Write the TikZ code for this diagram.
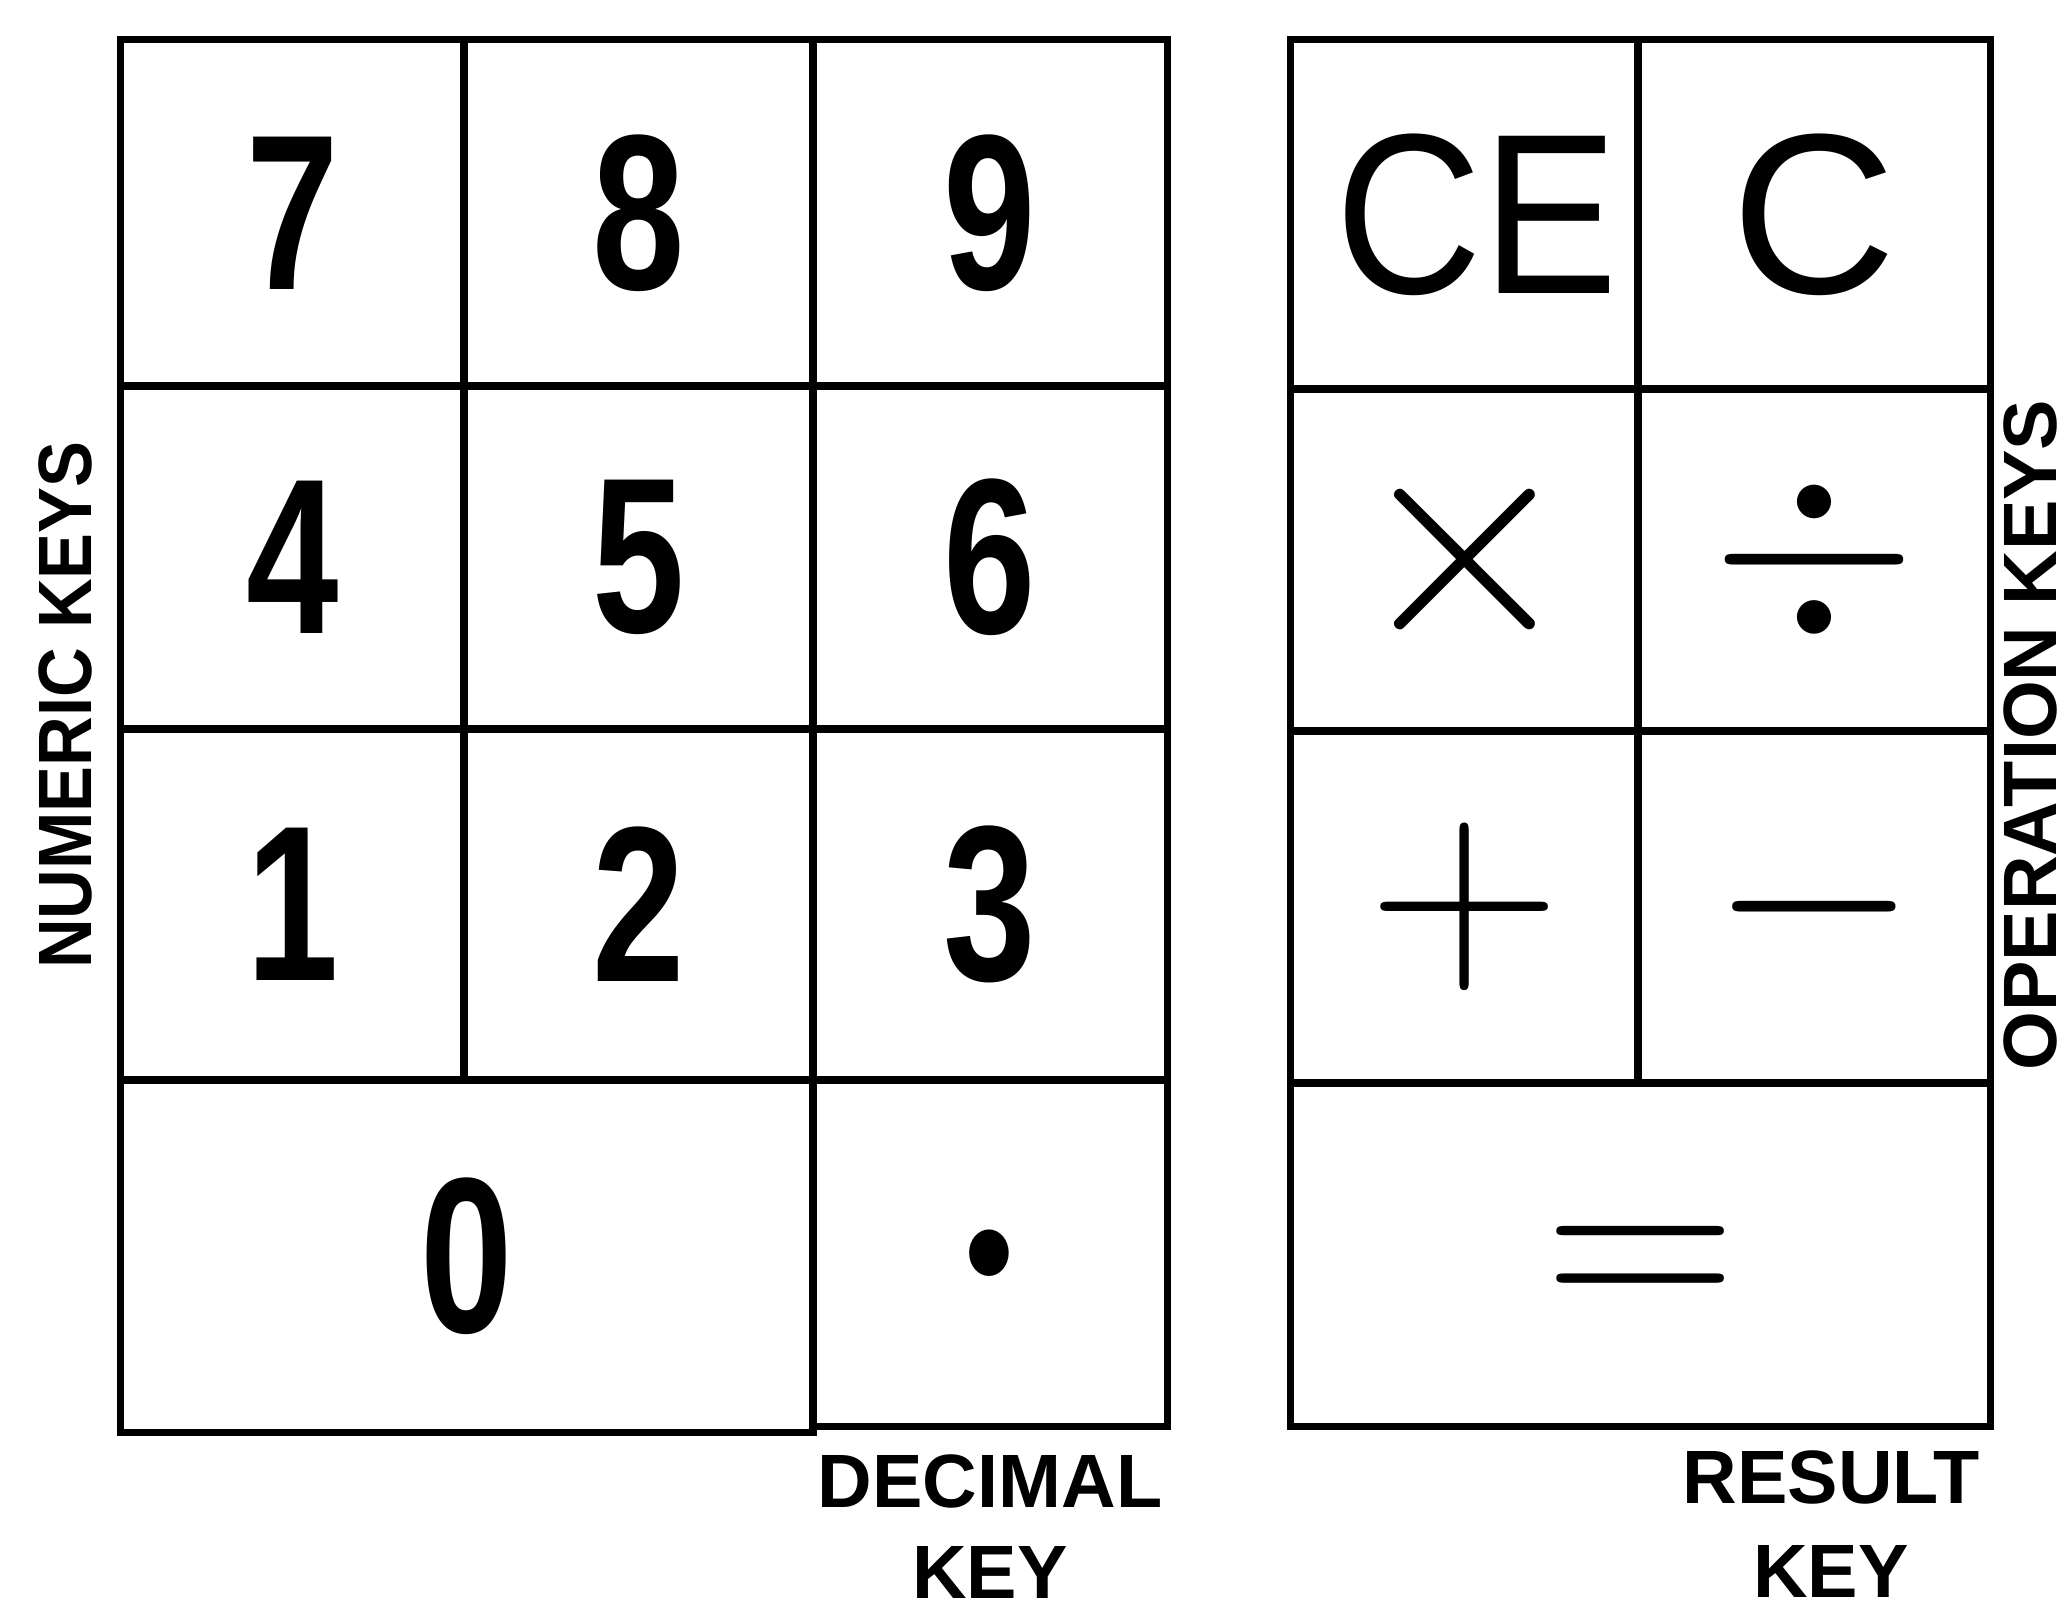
\RequirePackage{fix-cm}
\documentclass[tikz,border=0pt]{standalone}
\usepackage[no-math]{fontspec}
\newfontfamily\digitfont{Liberation Sans}[FakeStretch=0.75]
\newfontfamily\keyfont{Liberation Sans}
\newfontfamily\labfont{Liberation Sans}
\begin{document}
\begin{tikzpicture}[x=0.01cm, y=-0.01cm,
  key/.style={draw=black, line width=2pt, inner sep=0pt, anchor=center},
  digit/.style={font=\digitfont\bfseries\fontsize{63}{64}\selectfont},
  letterkey/.style={font=\keyfont\fontsize{65}{66}\selectfont},
  opkey/.style={font=\fontsize{76}{76}\selectfont},
  lab/.style={font=\labfont\bfseries\fontsize{21.5}{22}\selectfont, inner sep=0pt}]
\useasboundingbox (0,0) rectangle (2066,1602);
% numeric keypad
\node[key,digit,minimum width=3.43cm,minimum height=3.46cm] (k7) at (292.5,213) {7};
\node[key,digit,minimum width=3.49cm,minimum height=3.46cm] (k8) at (638.5,213) {8};
\node[key,digit,minimum width=3.54cm,minimum height=3.46cm] (k9) at (990,213) {9};
\node[key,digit,minimum width=3.43cm,minimum height=3.43cm] (k4) at (292.5,557.5) {4};
\node[key,digit,minimum width=3.49cm,minimum height=3.43cm] (k5) at (638.5,557.5) {5};
\node[key,digit,minimum width=3.54cm,minimum height=3.43cm] (k6) at (990,557.5) {6};
\node[key,digit,minimum width=3.43cm,minimum height=3.51cm] (k1) at (292.5,904.5) {1};
\node[key,digit,minimum width=3.49cm,minimum height=3.51cm] (k2) at (638.5,904.5) {2};
\node[key,digit,minimum width=3.54cm,minimum height=3.51cm] (k3) at (990,904.5) {3};
\node[key,digit,minimum width=6.92cm,minimum height=3.52cm] (k0) at (467,1256) {0};
\node[key,font=\bfseries\fontsize{92}{92}\selectfont,minimum width=3.54cm,minimum height=3.46cm] (kdot) at (990,1253) {\scalebox{0.85}[1]{.}};
% operation keypad
\node[key,letterkey,minimum width=3.47cm,minimum height=3.49cm] (kce) at (1464.5,214.5) {\hspace*{0.25cm}\scalebox{0.89}[1]{CE}};
\node[key,letterkey,minimum width=3.52cm,minimum height=3.49cm] (kc) at (1814,214.5) {C};
\node[key,opkey,font=\fontsize{83}{83}\selectfont,minimum width=3.47cm,minimum height=3.42cm] (kmul) at (1464.5,560) {$\vphantom{+}{\times}$};
\node[key,opkey,minimum width=3.52cm,minimum height=3.42cm] (kdiv) at (1814,560) {$\vphantom{+}{\div}$};
\node[key,opkey,minimum width=3.47cm,minimum height=3.52cm] (kplus) at (1464.5,907) {$\vphantom{+}{+}$};
\node[key,opkey,minimum width=3.52cm,minimum height=3.52cm] (kminus) at (1814,907) {$\vphantom{+}{-}$};
\node[key,opkey,minimum width=6.99cm,minimum height=3.43cm] (keq) at (1640.5,1254.5) {$\vphantom{+}{=}$};
% labels
\node[lab, rotate=90] (numkeys) at (65,705) {\scalebox{0.91}[1]{NUMERIC KEYS}};
\node[lab, rotate=90] (opkeys) at (2030,735) {OPERATION KEYS};
\node[lab] (dec1) at (990,1481) {DECIMAL};
\node[lab] (dec2) at (990,1572) {KEY};
\node[lab] (res1) at (1831,1477) {RESULT};
\node[lab] (res2) at (1831,1571) {KEY};
\end{tikzpicture}
\end{document}
